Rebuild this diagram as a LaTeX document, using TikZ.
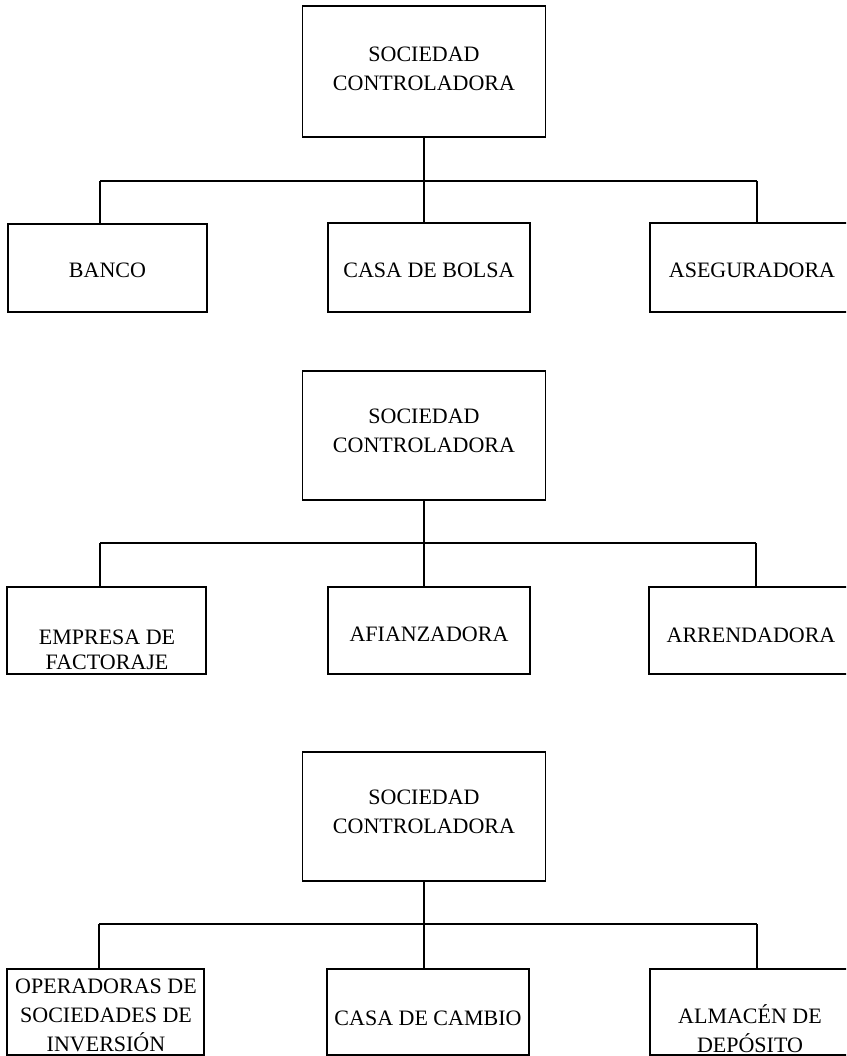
\documentclass[tikz,border=0pt]{standalone}
\usepackage{fontspec}
\setmainfont{Liberation Serif}
\begin{document}
\begin{tikzpicture}[x=1pt,y=-1pt,
  box/.style={draw,line width=1.8pt,inner sep=0pt},
  ln/.style={line width=1.8pt},
  txt/.style={font=\fontsize{22}{29}\selectfont,align=center,inner sep=0pt,anchor=base},
  txtb/.style={font=\fontsize{22}{25}\selectfont,align=center,inner sep=0pt,anchor=base}]
\clip (0,0) rectangle (846,1056);
% ---------- group 1 ----------
\node[box,minimum width=243pt,minimum height=131pt] (top1) at (424,71.5) {};
\node[txt] (t1) at (424,91) {SOCIEDAD\\CONTROLADORA};
\node[box,minimum width=199pt,minimum height=88pt] (banco) at (107.5,268) {};
\node[txt] (t1a) at (107.5,278) {BANCO};
\node[box,minimum width=202pt,minimum height=89pt] (bolsa) at (429,267.5) {};
\node[txt] (t1b) at (429,278) {CASA DE BOLSA};
\node[box,minimum width=210pt,minimum height=89pt] (aseg) at (755,267.5) {};
\node[txt] (t1c) at (752,278) {ASEGURADORA};
\coordinate (h1L) at (100,181);
\coordinate (h1R) at (757,181);
\draw[ln] (top1.south) -- (top1.south |- bolsa.north);
\draw[ln] (h1L) -- (h1R);
\draw[ln] (h1L) -- (h1L |- banco.north);
\draw[ln] (h1R) -- (h1R |- aseg.north);
% ---------- group 2 ----------
\node[box,minimum width=243pt,minimum height=129pt] (top2) at (424,435.5) {};
\node[txt] (t2) at (424,452) {SOCIEDAD\\CONTROLADORA};
\node[box,minimum width=199pt,minimum height=87pt] (empresa) at (106.5,630.5) {};
\node[txtb] (t2a) at (107,669) {EMPRESA DE\\FACTORAJE};
\node[box,minimum width=202pt,minimum height=87pt] (afianz) at (429,630.5) {};
\node[txt] (t2b) at (429,641) {AFIANZADORA};
\node[box,minimum width=211pt,minimum height=87pt] (arrend) at (754.5,630.5) {};
\node[txt] (t2c) at (751,642) {ARRENDADORA};
\coordinate (h2L) at (100,543);
\coordinate (h2R) at (756,543);
\draw[ln] (top2.south) -- (top2.south |- afianz.north);
\draw[ln] (h2L) -- (h2R);
\draw[ln] (h2L) -- (h2L |- empresa.north);
\draw[ln] (h2R) -- (h2R |- arrend.north);
% ---------- group 3 ----------
\node[box,minimum width=243pt,minimum height=129pt] (top3) at (424,816.5) {};
\node[txt] (t3) at (424,833) {SOCIEDAD\\CONTROLADORA};
\node[box,minimum width=197pt,minimum height=86pt] (operad) at (105.5,1012) {};
\node[txt] (t3a) at (106,1051) {OPERADORAS DE\\SOCIEDADES DE\\INVERSIÓN};
\node[box,minimum width=202pt,minimum height=86pt] (cambio) at (428,1012) {};
\node[txt] (t3b) at (428,1025) {CASA DE CAMBIO};
\node[box,minimum width=210pt,minimum height=86pt] (almacen) at (755,1012) {};
\node[txt] (t3c) at (750,1052) {ALMACÉN DE\\DEPÓSITO};
\coordinate (h3L) at (99,924);
\coordinate (h3R) at (757,924);
\draw[ln] (top3.south) -- (top3.south |- cambio.north);
\draw[ln] (h3L) -- (h3R);
\draw[ln] (h3L) -- (h3L |- operad.north);
\draw[ln] (h3R) -- (h3R |- almacen.north);
\end{tikzpicture}
\end{document}
